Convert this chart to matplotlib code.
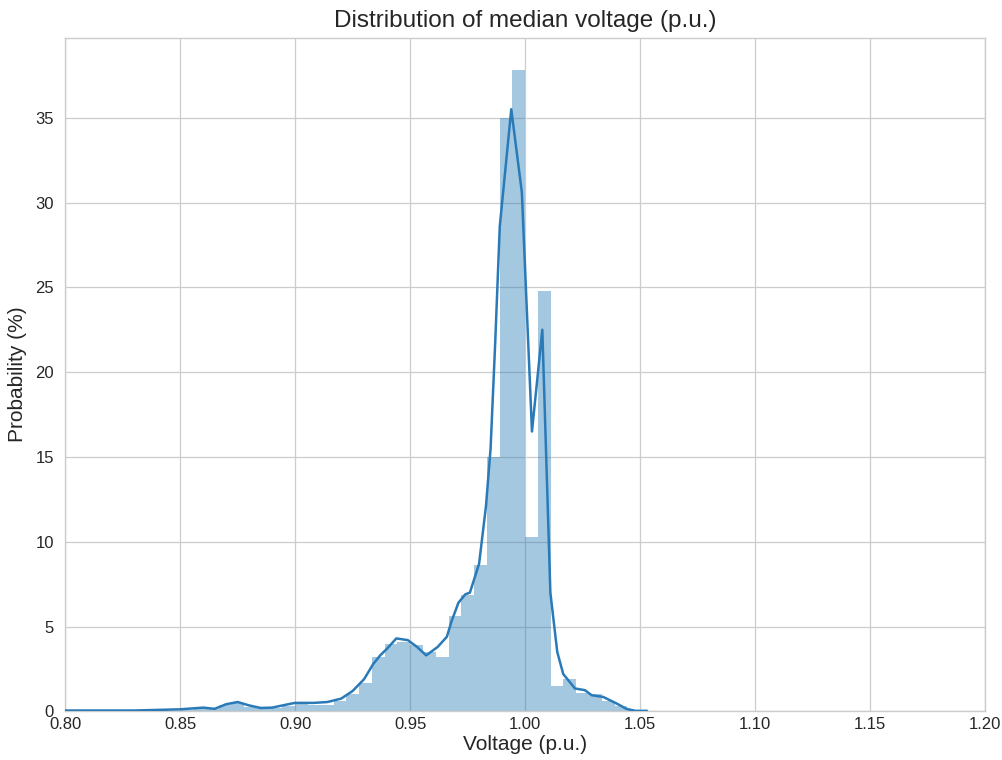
import numpy as np
import matplotlib
matplotlib.use("Agg")
import matplotlib.pyplot as plt

# histogram bins (left edges, width = 0.05/9) and heights
bin_lefts = [
    0.8000, 0.8056, 0.8111, 0.8167, 0.8222, 0.8278, 0.8333, 0.8389, 0.8444,
    0.8500, 0.8556, 0.8611, 0.8667, 0.8722, 0.8778, 0.8833, 0.8889, 0.8944,
    0.9000, 0.9056, 0.9111, 0.9167, 0.9222, 0.9278, 0.9333, 0.9389, 0.9444,
    0.9500, 0.9556, 0.9611, 0.9667, 0.9722, 0.9778, 0.9833, 0.9889, 0.9944,
    1.0000, 1.0056, 1.0111, 1.0167, 1.0222, 1.0278, 1.0333, 1.0389, 1.0444,
    1.0500,
]
bin_heights = [
    0.03, 0.02, 0.02, 0.02, 0.02, 0.02, 0.02, 0.02, 0.03,
    0.10, 0.20, 0.15, 0.35, 0.50, 0.25, 0.20, 0.20, 0.30,
    0.45, 0.40, 0.40, 0.60, 1.05, 1.65, 3.20, 4.00, 4.10,
    3.90, 3.50, 3.20, 5.60, 6.85, 8.60, 15.0, 35.0, 37.8,
    10.3, 24.8, 1.50, 1.90, 1.10, 1.00, 0.60, 0.30, 0.10,
    0.05,
]

# density curve drawn over the histogram
kde_x = [
    0.800, 0.830, 0.850, 0.860, 0.865, 0.870, 0.875, 0.880, 0.885, 0.890,
    0.897, 0.900, 0.908, 0.914, 0.920, 0.925, 0.930, 0.934, 0.937, 0.940,
    0.944, 0.949, 0.953, 0.957, 0.962, 0.966, 0.968, 0.971, 0.974, 0.976,
    0.980, 0.983, 0.985, 0.987, 0.989, 0.994, 0.9986, 1.003, 1.0075, 1.011,
    1.014, 1.0166, 1.0217, 1.026, 1.029, 1.034, 1.040, 1.044, 1.048, 1.053,
]
kde_y = [
    0.05, 0.05, 0.12, 0.22, 0.15, 0.42, 0.55, 0.35, 0.20, 0.22,
    0.42, 0.50, 0.50, 0.55, 0.75, 1.20, 1.90, 2.80, 3.30, 3.70,
    4.30, 4.20, 3.80, 3.30, 3.80, 4.40, 5.30, 6.40, 6.90, 7.00,
    8.70, 12.1, 15.5, 21.7, 28.6, 35.5, 30.6, 16.5, 22.5, 7.00,
    3.50, 2.20, 1.35, 1.25, 0.95, 0.85, 0.45, 0.15, 0.03, 0.03,
]

x_ticks = [0.80, 0.85, 0.90, 0.95, 1.00, 1.05, 1.10, 1.15, 1.20]
y_ticks = [0, 5, 10, 15, 20, 25, 30, 35]

plt.style.use("seaborn-v0_8-whitegrid")
plt.rcParams["font.family"] = ["Liberation Sans", "DejaVu Sans"]

fig = plt.figure(figsize=(10.03, 7.6), dpi=100)
ax = fig.add_axes([0.065, 0.064, 0.917, 0.886])

# one filled outline for the histogram so no seams show between bars
bin_width = 0.05 / 9
edges = bin_lefts + [bin_lefts[-1] + bin_width]
ax.stairs(bin_heights, edges, fill=True, color="#1f77b4", alpha=0.4,
          linewidth=0, zorder=2)
ax.plot(kde_x, kde_y, color="#2a7ab8", linewidth=1.8, zorder=3)

ax.set_xlim(0.80, 1.20)
ax.set_ylim(0, 39.7)
ax.set_xticks(x_ticks)
ax.set_xticklabels([f"{t:.2f}" for t in x_ticks])
ax.set_yticks(y_ticks)
ax.tick_params(labelsize=12, colors="#262626")
ax.tick_params(axis="y", pad=8)
ax.tick_params(axis="x", pad=4)

for sp in ax.spines.values():
    sp.set_visible(True)
    sp.set_color("#cccccc")
    sp.set_linewidth(1.0)
ax.grid(True, color="#cccccc", linewidth=0.9)

ax.set_title("Distribution of median voltage (p.u.)", fontsize=17.5,
             color="#262626", pad=8)
ax.set_xlabel("Voltage (p.u.)", fontsize=15, color="#262626", labelpad=2)
ax.set_ylabel("Probability (%)", fontsize=15, color="#262626", labelpad=6)

fig.savefig("out.png", dpi=100)
